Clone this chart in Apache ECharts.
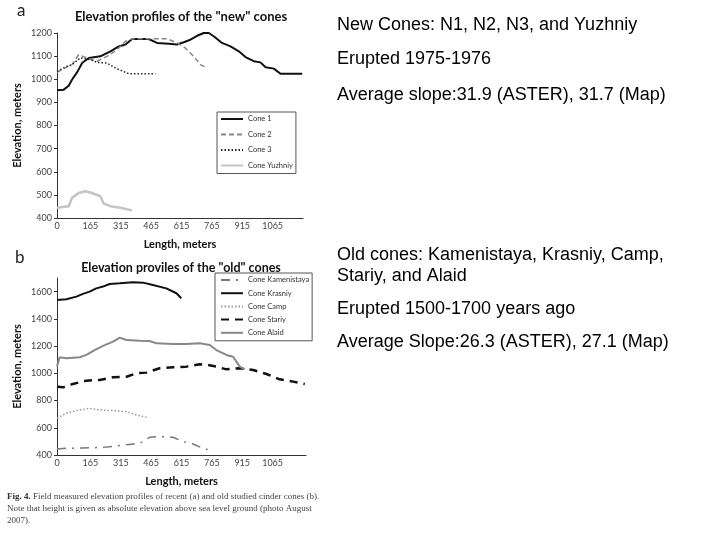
<!DOCTYPE html>
<html><head><meta charset="utf-8">
<script src="https://cdn.jsdelivr.net/npm/echarts@6/dist/echarts.min.js"></script>
<style>html,body{margin:0;padding:0;background:#fff}#c{width:720px;height:540px}</style>
</head><body><div id="c"></div>
<script>
// ---- data: chart a ("new" cones) ----
var xTickLabels = [0, 165, 315, 465, 615, 765, 915, 1065];
var cone1X = [0,33,58,74,102,124,157,214,264,305,338,371,412,453,494,552,593,626,659,692,725,750,774,815,857,898,931,972,1005,1030,1071,1104,1153,1211];
var cone1Y = [952,955,972,998,1034,1070,1092,1099,1121,1142,1150,1174,1174,1174,1157,1154,1150,1160,1171,1188,1200,1200,1186,1157,1142,1121,1096,1078,1073,1052,1046,1024,1024,1024];
var cone2X = [0,41,74,107,148,198,247,297,338,371,544,593,634,675,708,741];
var cone2Y = [1030,1049,1063,1106,1092,1078,1099,1128,1164,1175,1175,1157,1135,1099,1063,1049];
var cone3X = [0,49,74,115,165,198,247,288,338,354,486];
var cone3Y = [1034,1056,1063,1092,1085,1073,1070,1049,1030,1024,1024];
var yuzhX = [0,58,74,107,140,173,214,231,264,313,371];
var yuzhY = [444,451,487,508,516,508,494,462,451,444,433];
// ---- data: chart b ("old" cones) ----
var kamenX = [0,46,128,227,293,359,409,458,507,573,623,672,722,763];
var kamenY = [444,449,451,456,466,478,486,530,535,530,498,481,449,432];
var krasX = [0,46,96,128,161,194,227,260,310,376,425,474,540,590,614];
var krasY = [1539,1544,1563,1583,1600,1624,1637,1656,1661,1669,1666,1649,1624,1588,1551];
var campX = [0,46,96,161,211,277,343,392,442];
var campY = [669,706,726,743,731,726,718,694,677];
var starX = [0,30,79,145,211,277,343,392,442,507,573,639,705,746,787,837,903,969,1035,1100,1166,1224];
var starY = [902,897,922,946,951,971,975,1000,1005,1037,1044,1049,1066,1061,1049,1029,1037,1024,995,956,939,922];
var alaidX = [0,13,46,112,145,186,227,277,310,343,409,458,491,573,639,705,755,787,837,870,903,927];
var alaidY = [1049,1118,1110,1118,1135,1171,1201,1233,1262,1245,1240,1237,1220,1215,1215,1220,1208,1171,1135,1122,1049,1029];

function pairs(xs, ys){ return xs.map(function(x,i){ return [x, ys[i]]; }); }

var axisFont = 'Lato';
function xAxisCfg(gi, max){
  return {
    type:'value', gridIndex:gi, min:0, max:max, interval:15,
    name:'Length, meters', nameLocation:'middle', nameGap:21,
    nameTextStyle:{fontFamily:'Lato', fontWeight:'bold', fontSize:11, color:'#111'},
    axisLine:{show:true, lineStyle:{color:'#333', width:1}},
    axisTick:{show:false},
    splitLine:{show:false},
    axisLabel:{fontFamily:axisFont, fontSize:9, color:'#444', margin:4, showMinLabel:true, showMaxLabel:true,
      formatter:function(v){ return xTickLabels.indexOf(Math.round(v))>=0 ? String(Math.round(v)) : ''; }}
  };
}
function yAxisCfg(gi, min, max, interval){
  return {
    type:'value', gridIndex:gi, min:min, max:max, interval:interval,
    name:'Elevation, meters', nameLocation:'middle', nameGap:34,
    nameTextStyle:{fontFamily:'Lato', fontWeight:'bold', fontSize:11, color:'#111'},
    axisLine:{show:true, lineStyle:{color:'#333', width:1}},
    axisTick:{show:true, length:3, lineStyle:{color:'#333'}},
    splitLine:{show:false},
    axisLabel:{fontFamily:axisFont, fontSize:9, color:'#444', margin:5, showMaxLabel: gi===0,
      formatter:function(v){ return String(v); }}
  };
}
function line(name, xi, xs, ys, color, width, type){
  return {name:name, type:'line', xAxisIndex:xi, yAxisIndex:xi, data:pairs(xs,ys),
    symbol:'none', smooth:false, lineStyle:{color:color, width:width, type:type}, itemStyle:{color:color},
    silent:true, animation:false};
}

var legendText = {fontFamily:'Lato', fontSize:7.5, color:'#333'};
var chart = echarts.init(document.getElementById('c'));
chart.setOption({
  backgroundColor:'#fff',
  animation:false,
  title:[
    {text:'Elevation profiles of the "new" cones', left:176, top:5, textAlign:'center',
      textStyle:{fontFamily:'Lato', fontWeight:'bold', fontSize:13, color:'#111'}},
    {text:'Elevation proviles of the "old" cones', left:176, top:256, textAlign:'center',
      textStyle:{fontFamily:'Lato', fontWeight:'bold', fontSize:12.5, color:'#111'}}
  ],
  grid:[
    {left:57, top:33, right:417, bottom:322, containLabel:false},
    {left:57, top:278, right:414, bottom:85, containLabel:false}
  ],
  xAxis:[xAxisCfg(0,1215), xAxisCfg(1,1230)],
  yAxis:[yAxisCfg(0,400,1200,100), yAxisCfg(1,400,1700,200)],
  legend:[
    {data:['Cone 1','Cone 2','Cone 3','Cone Yuzhniy'], orient:'vertical', left:217, top:112,
      itemWidth:22, itemHeight:8, itemGap:7.5, padding:[3,3,4,3], borderColor:'#555', borderWidth:1,
      itemStyle:{opacity:0}, textStyle:legendText},
    {data:['Cone Kamenistaya','Cone Krasniy','Cone Camp','Cone Stariy','Cone Alaid'], orient:'vertical', left:215, top:273,
      itemWidth:22, itemHeight:8, itemGap:5.2, padding:[3,3,4,5], borderColor:'#555', borderWidth:1,
      itemStyle:{opacity:0}, textStyle:legendText}
  ],
  series:[
    line('Cone 1',0,cone1X,cone1Y,'#111',2,'solid'),
    line('Cone 2',0,cone2X,cone2Y,'#888',1.5,[5,3]),
    line('Cone 3',0,cone3X,cone3Y,'#222',1.5,[1.5,2]),
    line('Cone Yuzhniy',0,yuzhX,yuzhY,'#c4c4c4',2.5,'solid'),
    line('Cone Kamenistaya',1,kamenX,kamenY,'#777',1.5,[9,6,2,6]),
    line('Cone Krasniy',1,krasX,krasY,'#111',2,'solid'),
    line('Cone Camp',1,campX,campY,'#999',1.5,[1.5,2]),
    line('Cone Stariy',1,starX,starY,'#111',2.5,[8,6]),
    line('Cone Alaid',1,alaidX,alaidY,'#888',2,'solid')
  ],
  graphic:[
    {type:'text', left:17, top:2, style:{text:'a', font:'17px Lato', fill:'#222'}},
    {type:'text', left:15, top:249, style:{text:'b', font:'17px Lato', fill:'#222'}},
    {type:'text', left:337, top:16, style:{text:'New Cones: N1, N2, N3, and Yuzhniy', font:'18px "Liberation Sans"', fill:'#000'}},
    {type:'text', left:337, top:50, style:{text:'Erupted 1975-1976', font:'18px "Liberation Sans"', fill:'#000'}},
    {type:'text', left:337, top:86, style:{text:'Average slope:31.9 (ASTER), 31.7 (Map)', font:'18px "Liberation Sans"', fill:'#000'}},
    {type:'text', left:337, top:246, style:{text:'Old cones: Kamenistaya, Krasniy, Camp,', font:'18px "Liberation Sans"', fill:'#000'}},
    {type:'text', left:337, top:267, style:{text:'Stariy, and Alaid', font:'18px "Liberation Sans"', fill:'#000'}},
    {type:'text', left:337, top:300, style:{text:'Erupted 1500-1700 years ago', font:'18px "Liberation Sans"', fill:'#000'}},
    {type:'text', left:337, top:333, style:{text:'Average Slope:26.3 (ASTER), 27.1 (Map)', font:'18px "Liberation Sans"', fill:'#000'}},
    {type:'text', left:7, top:492, style:{rich:{b:{font:'bold 9px "Liberation Serif"', fill:'#333'}, n:{font:'9px "Liberation Serif"', fill:'#444'}},
      text:'{b|Fig. 4.}{n| Field measured elevation profiles of recent (a) and old studied cinder cones (b).}', font:'9px "Liberation Serif"'}},
    {type:'text', left:7, top:504, style:{text:'Note that height is given as absolute elevation above sea level ground (photo August', font:'9px "Liberation Serif"', fill:'#444'}},
    {type:'text', left:7, top:516, style:{text:'2007).', font:'9px "Liberation Serif"', fill:'#444'}}
  ]
});
</script></body></html>
